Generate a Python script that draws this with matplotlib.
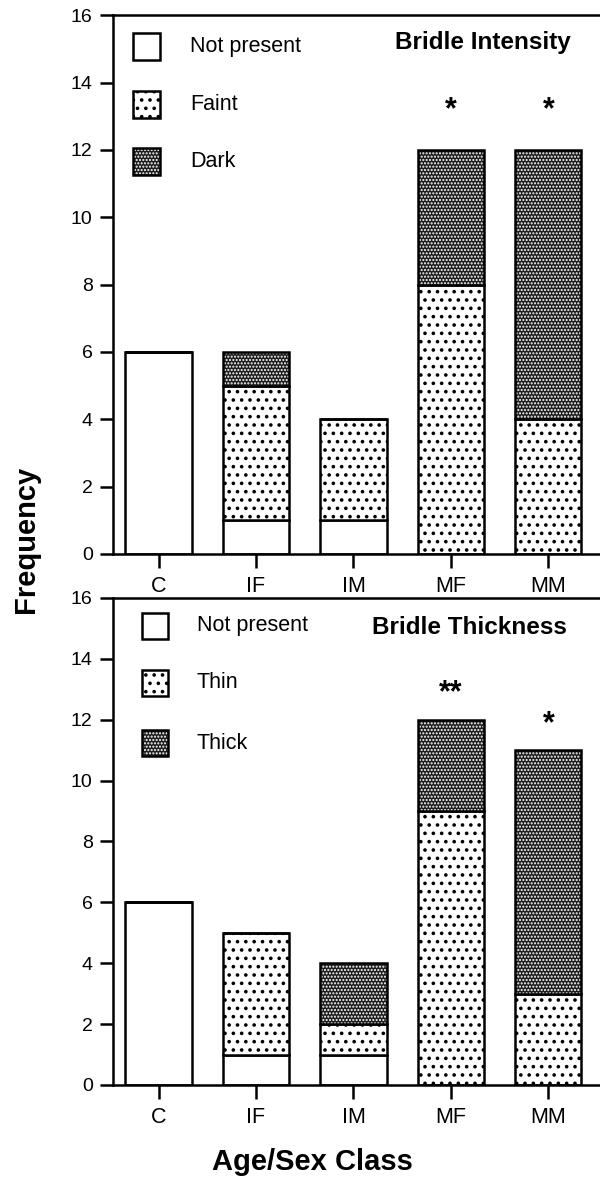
import matplotlib
matplotlib.use('Agg')
import matplotlib.pyplot as plt
from matplotlib.patches import Rectangle
import numpy as np

plt.rcParams['font.family'] = ['Liberation Sans', 'DejaVu Sans']
plt.rcParams['hatch.linewidth'] = 1.0

classes = ['C', 'IF', 'IM', 'MF', 'MM']
int_not = [6, 1, 1, 0, 0]
int_faint = [0, 4, 3, 8, 4]
int_dark = [0, 1, 0, 4, 8]
int_marks = ['', '', '', '*', '*']
int_labels = ['Not present', 'Faint', 'Dark']

thk_not = [6, 1, 1, 0, 0]
thk_thin = [0, 4, 1, 9, 3]
thk_thick = [0, 0, 2, 3, 8]
thk_marks = ['', '', '', '**', '*']
thk_labels = ['Not present', 'Thin', 'Thick']

yticks = [0, 2, 4, 6, 8, 10, 12, 14, 16]

fig = plt.figure(figsize=(6, 11.81), dpi=100)
ax1 = fig.add_axes([0.188, 0.531, 0.812, 0.456])
ax2 = fig.add_axes([0.188, 0.0813, 0.812, 0.4124])

W = 0.68
LW = 1.8
DARK_FACE = '#1e1e1e'
FAINT_HATCH = '..'
DARK_HATCH = '.....'


def faint_bar(ax, x, h, bottom):
    with plt.rc_context({'hatch.linewidth': 1.4}):
        ax.bar(x, h, bottom=bottom, width=W, color='white', edgecolor='black',
               hatch=FAINT_HATCH, linewidth=LW, zorder=2)


def dark_bar(ax, x, h, bottom):
    ax.bar(x, h, bottom=bottom, width=W, color=DARK_FACE, edgecolor='white',
           hatch=DARK_HATCH, linewidth=0, zorder=2)
    ax.bar(x, h, bottom=bottom, width=W, fill=False, edgecolor='black',
           linewidth=LW, zorder=3)


def stacked(ax, a, b, c, marks, star_off):
    x = np.arange(len(classes))
    a = np.array(a); b = np.array(b); c = np.array(c)
    ax.bar(x, a, width=W, color='white', edgecolor='black', linewidth=LW, zorder=2)
    faint_bar(ax, x, b, a)
    dark_bar(ax, x, c, a + b)
    tot = a + b + c
    for xi, t, m in zip(x, tot, marks):
        if m:
            ax.text(xi, t + star_off, m, ha='center', va='baseline',
                    fontsize=22, fontweight='bold')


def legend(ax, labels, x0, w, h, ys, tx):
    for i, (lab, yc) in enumerate(zip(labels, ys)):
        if i == 0:
            ax.add_patch(Rectangle((x0, yc - h / 2), w, h, transform=ax.transAxes,
                                   facecolor='white', edgecolor='black',
                                   linewidth=LW, zorder=5))
        elif i == 1:
            with plt.rc_context({'hatch.linewidth': 1.4}):
                ax.add_patch(Rectangle((x0, yc - h / 2), w, h, transform=ax.transAxes,
                                       facecolor='white', edgecolor='black',
                                       hatch=FAINT_HATCH, linewidth=LW, zorder=5))
        else:
            ax.add_patch(Rectangle((x0, yc - h / 2), w, h, transform=ax.transAxes,
                                   facecolor=DARK_FACE, edgecolor='white', hatch=DARK_HATCH,
                                   linewidth=0, zorder=4))
            ax.add_patch(Rectangle((x0, yc - h / 2), w, h, transform=ax.transAxes,
                                   fill=False, edgecolor='black', linewidth=LW, zorder=5))
        ax.text(tx, yc, lab, transform=ax.transAxes, ha='left', va='center',
                fontsize=15.5)


def style(ax):
    ax.set_xlim(-0.47, 4.53)
    ax.set_ylim(0, 16)
    ax.set_yticks(yticks)
    ax.set_xticks(np.arange(len(classes)))
    ax.set_xticklabels(classes)
    ax.spines['right'].set_visible(False)
    for s in ['left', 'top', 'bottom']:
        ax.spines[s].set_linewidth(LW)
    ax.tick_params(axis='y', direction='out', length=9.5, width=LW,
                   labelsize=14, pad=5)
    ax.tick_params(axis='x', direction='out', length=10, width=LW,
                   labelsize=15.5, pad=6)


stacked(ax1, int_not, int_faint, int_dark, int_marks, 0.95)
stacked(ax2, thk_not, thk_thin, thk_thick, thk_marks, 0.6)
style(ax1)
style(ax2)

legend(ax1, int_labels, 0.041, 0.0555, 0.050, [0.9425, 0.835, 0.729], 0.158)
legend(ax2, thk_labels, 0.0595, 0.053, 0.053, [0.9425, 0.8255, 0.702], 0.1725)

ax1.text(0.76, 0.95, 'Bridle Intensity', transform=ax1.transAxes, ha='center',
         va='center', fontsize=17.5, fontweight='bold')
ax2.text(0.733, 0.94, 'Bridle Thickness', transform=ax2.transAxes, ha='center',
         va='center', fontsize=17.5, fontweight='bold')

fig.text(0.043, 0.543, 'Frequency', rotation=90, ha='center', va='center',
         fontsize=21, fontweight='bold')
fig.text(0.521, 0.0165, 'Age/Sex Class', ha='center', va='center',
         fontsize=21, fontweight='bold')

fig.savefig('out.png', dpi=100)
